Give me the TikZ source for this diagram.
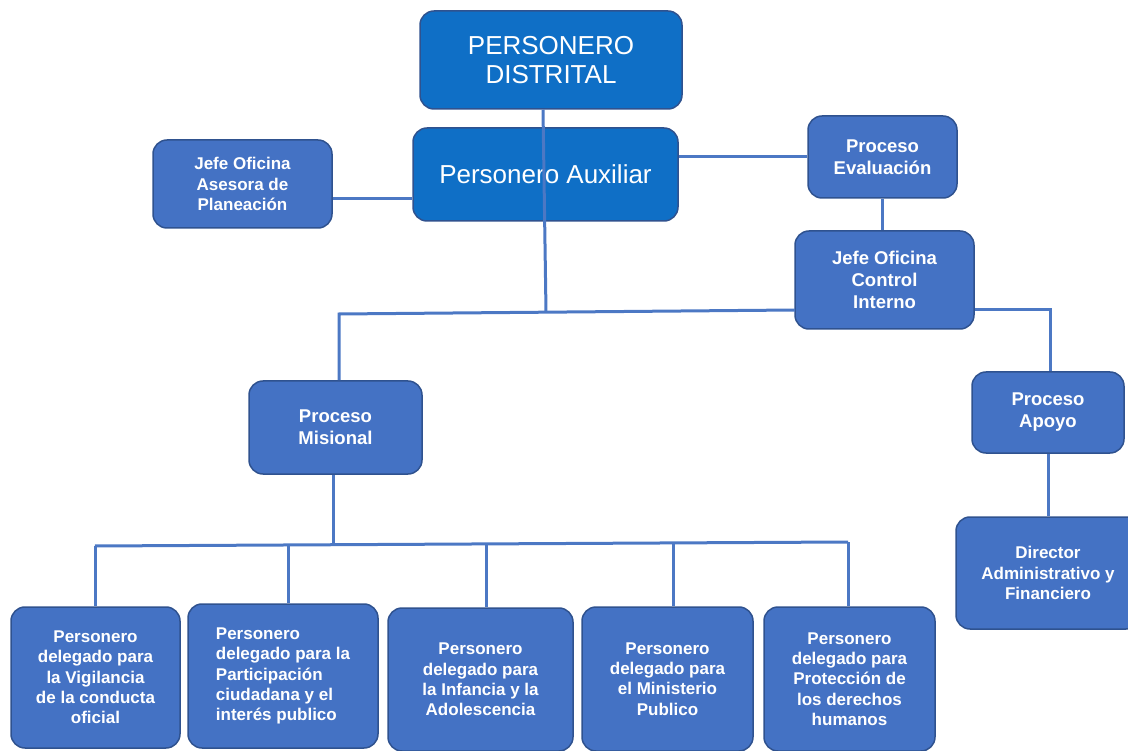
\documentclass[tikz,border=0pt]{standalone}
\usepackage{fontspec}
\setmainfont{Liberation Sans}
\definecolor{dark}{HTML}{0F6FC6}
\definecolor{mid}{HTML}{4472C4}
\definecolor{edge}{HTML}{2F528F}
\definecolor{wirec}{HTML}{4C78C4}
\begin{document}
\begin{tikzpicture}[x=1pt,y=-1pt,
 box/.style={draw=edge, line width=1.5pt, rounded corners=14pt, fill=mid, text=white, align=center, inner sep=0pt, font=\fontsize{17}{20.3}\selectfont\bfseries},
 midbox/.style={box, font=\fontsize{18.5}{22}\selectfont\bfseries},
 topbox/.style={box, fill=dark, font=\fontsize{26}{29}\selectfont},
 wire/.style={draw=wirec, line width=3pt}]
\useasboundingbox (0,0) rectangle (1128,751);

% boxes
\node[topbox, minimum width=262pt, minimum height=98pt] (dist) at (551,60) {PERSONERO\\DISTRITAL};
\node[topbox, minimum width=265pt, minimum height=93pt] (aux) at (545.5,174.5) {Personero Auxiliar};
\node[box, minimum width=179pt, minimum height=88pt] (plan) at (242.5,184) {Jefe Oficina\\Asesora de\\Planeación};
\node[midbox, minimum width=149pt, minimum height=82pt] (eval) at (882.5,157) {Proceso\\Evaluación};
\node[midbox, minimum width=179pt, minimum height=98pt] (ctrl) at (884.5,280) {Jefe Oficina\\Control\\Interno};
\node[midbox, minimum width=173pt, minimum height=93pt] (mis) at (335.5,427.5) {Proceso\\Misional};
\node[midbox, minimum width=152pt, minimum height=81pt] (apoyo) at (1048,412.5) {Proceso\\Apoyo};
\node[box, minimum width=184pt, minimum height=112pt] (dir) at (1048,573) {Director\\Administrativo y\\Financiero};
\node[box, minimum width=169pt, minimum height=141pt] (b1) at (95.5,677.5) {Personero\\delegado para\\la Vigilancia\\de la conducta\\oficial};
\node[box, align=left, minimum width=190pt, minimum height=144pt] (b2) at (283,676) {Personero\\delegado para la\\Participación\\ciudadana y el\\interés publico};
\node[box, minimum width=185pt, minimum height=143pt] (b3) at (480.5,679.5) {Personero\\delegado para\\la Infancia y la\\Adolescencia};
\node[box, minimum width=171pt, minimum height=144pt] (b4) at (667.5,679) {Personero\\delegado para\\el Ministerio\\Publico};
\node[box, minimum width=171pt, minimum height=144pt] (b5) at (849.5,679) {Personero\\delegado para\\Protección de\\los derechos\\humanos};

% connector points
\coordinate (busJ) at (546,311.5);
\coordinate (busL) at (339,314);
\coordinate (busR) at (795,310);
\coordinate (busR2) at (1050,310);
\coordinate (pl) at ([yshift=-15pt]plan.east);
\coordinate (b2L) at (95,546);
\coordinate (b2R) at (848,542);
\coordinate (b2M) at (333,544.5);
\coordinate (d2) at (288,545);
\coordinate (d3) at (486,544);
\coordinate (d4) at (673,543.5);

% connectors
\draw[wire] ([xshift=-8pt]dist.south) -- (busJ);
\draw[wire] (busL |- mis.north) -- (busL) -- (busR);
\draw[wire] (busR2 -| ctrl.east) -- (busR2) -- (busR2 |- apoyo.north);
\draw[wire] (pl) -- (pl -| aux.west);
\draw[wire] (eval.west -| aux.east) -- (eval.west);
\draw[wire] (eval.south) -- (eval.south |- ctrl.north);
\draw[wire] ([xshift=-2.5pt]mis.south) -- (b2M);
\draw[wire] (b2L) -- (b2R);
\draw[wire] (b2L) -- (b2L |- b1.north);
\draw[wire] (d2) -- (d2 |- b2.north);
\draw[wire] (d3) -- (d3 |- b3.north);
\draw[wire] (d4) -- (d4 |- b4.north);
\draw[wire] (b2R) -- (b2R |- b5.north);
\draw[wire] (apoyo.south) -- (dir.north);
\end{tikzpicture}
\end{document}
